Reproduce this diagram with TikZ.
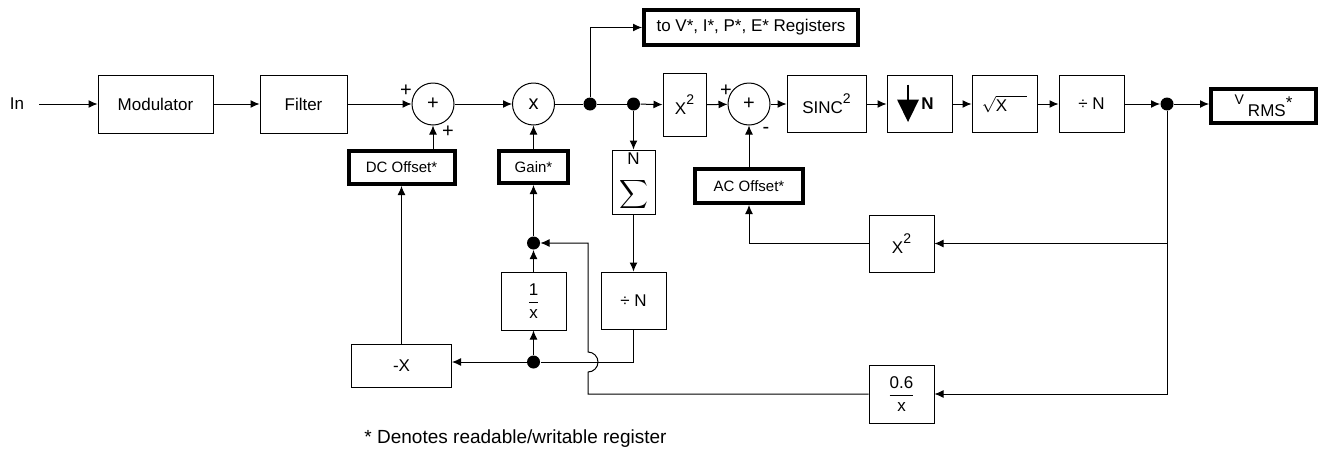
\documentclass[tikz,border=0pt]{standalone}
\usepackage{fontspec}
\setmainfont{Liberation Sans}
\usepackage{amsmath}
\usetikzlibrary{positioning,arrows.meta}

\newcommand{\quadr}{\raisebox{5pt}{\fontsize{7}{7}\selectfont 2}}

\begin{document}
\begin{tikzpicture}[
    x=0.5pt, y=-0.5pt, % 1 unidade = 1 pixel da figura
    font=\fontsize{8.5}{10}\selectfont,
    >={Latex[length=4.5pt,width=4pt]},
    line width=0.5pt,
    blk/.style={draw, minimum width=32.5pt, minimum height=28.5pt, inner sep=0pt},
    regbox/.style={draw, line width=2pt, inner sep=0pt, font=\fontsize{7.5}{9}\selectfont},
    somador/.style={draw, circle, minimum size=21pt, inner sep=0pt, font=\fontsize{10}{10}\selectfont},
    ponto/.style={circle, fill, minimum size=6.5pt, inner sep=0pt},
    sinal/.style={inner sep=0pt, font=\fontsize{10}{10}\selectfont}
]
\useasboundingbox (0,0) rectangle (1325,450);

% --- Linha principal ---
\node (in) at (17,104) {In};
\node[blk, minimum width=57.5pt, minimum height=29pt] (mod) at (155.5,104) {Modulator};
\node[blk, minimum width=43.5pt, minimum height=29pt] (filt) at (303.5,104) {Filter};
\node[somador] (sum1) at (433,104) {+};
\node[somador] (mult) at (533.5,104) {x};
\node[ponto] (d1) at (590,104) {};
\node[ponto] (d2) at (633.5,104) {};
\node[blk, minimum width=21.5pt, minimum height=31.5pt] (sq1) at (684.5,105) {X\quadr};
\node[somador] (sum2) at (749,104) {+};
\node[blk, minimum width=39.5pt] (sinc) at (826.5,104) {SINC\quadr};
\node[blk] (dwn) at (919.5,104) {};
\node[blk] (raiz) at (1004.5,104) {$\sqrt{\text{X}\hspace{10pt}}$};
\node[blk] (divn) at (1091.5,104) {÷ N};
\node[ponto] (d3) at (1167,104) {};
\node[regbox, minimum width=52.5pt, minimum height=17pt, font=\fontsize{8.5}{10}\selectfont] (vrms) at (1263.5,106)
    {\raisebox{6pt}{\fontsize{7}{8}\selectfont V}\hspace{2pt}RMS\raisebox{4pt}{*}};
\node[regbox, minimum width=107pt, minimum height=17.5pt, font=\fontsize{8.5}{10}\selectfont] (regs) at (751,27.5)
    {to V*, I*, P*, E* Registers};

% sinais dos somadores
\node[sinal] (p1) at (406,91) {+};
\node[sinal] (p2) at (448,132) {+};
\node[sinal] (p3) at (726,91) {+};
\node[sinal] (m1) at (766,130) {-};

% simbolo de decimacao
\draw[line width=1.2pt] ([shift={(-11.5,-19.5)}]dwn.center) -- ([shift={(-11.5,-4)}]dwn.center);
\fill ([shift={(-22.5,-4.5)}]dwn.center) -- ([shift={(-0.5,-4.5)}]dwn.center) -- ([shift={(-11.5,18)}]dwn.center) -- cycle;
\node[font=\fontsize{8.5}{10}\selectfont\bfseries] (dwnN) at ([shift={(8,0)}]dwn.center) {N};

% --- Registradores e realimentacao ---
\node[regbox, minimum width=53pt, minimum height=16.5pt] (dc) at (401.5,167.5) {DC Offset*};
\node[regbox, minimum width=34.5pt, minimum height=16pt] (gain) at (533.5,167) {Gain*};
\node[blk, minimum width=21.5pt, minimum height=32pt, align=center] (soma) at (633.5,182)
    {$\mathrm{N}$\\[6pt]{\fontsize{10}{10}\selectfont$\displaystyle\sum$}};
\node[regbox, minimum width=54pt, minimum height=17pt] (acoff) at (749,186) {AC Offset*};
\node[ponto] (dg) at (533.5,243) {};
\node[blk, minimum height=29pt] (inv) at (533.5,301) {$\dfrac{\text{1}}{\text{x}}$};
\node[blk] (divn2) at (633.5,300.5) {÷ N};
\node[ponto] (db) at (533.5,362) {};
\node[blk, minimum width=50pt, minimum height=21.5pt] (negx) at (401.5,365.5) {-X};
\node[blk] (sq2) at (901.5,243.5) {X\quadr};
\node[blk, minimum height=29pt] (rec) at (901.5,394) {$\dfrac{\text{0.6}}{\text{x}}$};
\coordinate (salto) at (588,362);

\node[font=\fontsize{9.5}{11}\selectfont] (nota) at (515.5,439) {* Denotes readable/writable register};

% --- Setas ---
\draw[->, shorten <=4pt] (in) -- (mod);
\draw[->] (mod) -- (filt);
\draw[->] (filt) -- (sum1);
\draw[->] (dc.north -| sum1) -- (sum1);
\draw[->] (sum1) -- (mult);
\draw[->] (gain) -- (mult);
\draw (mult) -- (d1) -- (d2);
\draw[->] (d1) |- (regs);
\draw[->] (d2) -- (sq1);
\draw[->] (d2) -- (soma);
\draw[->] (sq1) -- (sum2);
\draw[->] (sum2) -- (sinc);
\draw[->] (sinc) -- (dwn);
\draw[->] (dwn) -- (raiz);
\draw[->] (raiz) -- (divn);
\draw[->] (divn) -- (d3);
\draw[->] (d3) -- (d3 -| vrms.west);
\draw[->] (d3) |- (sq2);
\draw[->] (d3) |- (rec);
\draw[->] (sq2) -| (acoff);
\draw[->] (acoff) -- (sum2);
\draw[->] (soma) -- (divn2);
\draw (divn2) |- (db);
\draw[->] (db) -- (db -| negx.east);
\draw[->] (db) -- (inv);
\draw[->] (inv) -- (dg);
\draw[->] (dg) -- (gain);
\draw[->] (negx) -- (dc);
\draw[->] (rec) -| ([yshift=-5pt]salto) arc[start angle=-90, end angle=90, radius=5pt] |- (dg); % salto sobre a linha

\end{tikzpicture}
\end{document}
